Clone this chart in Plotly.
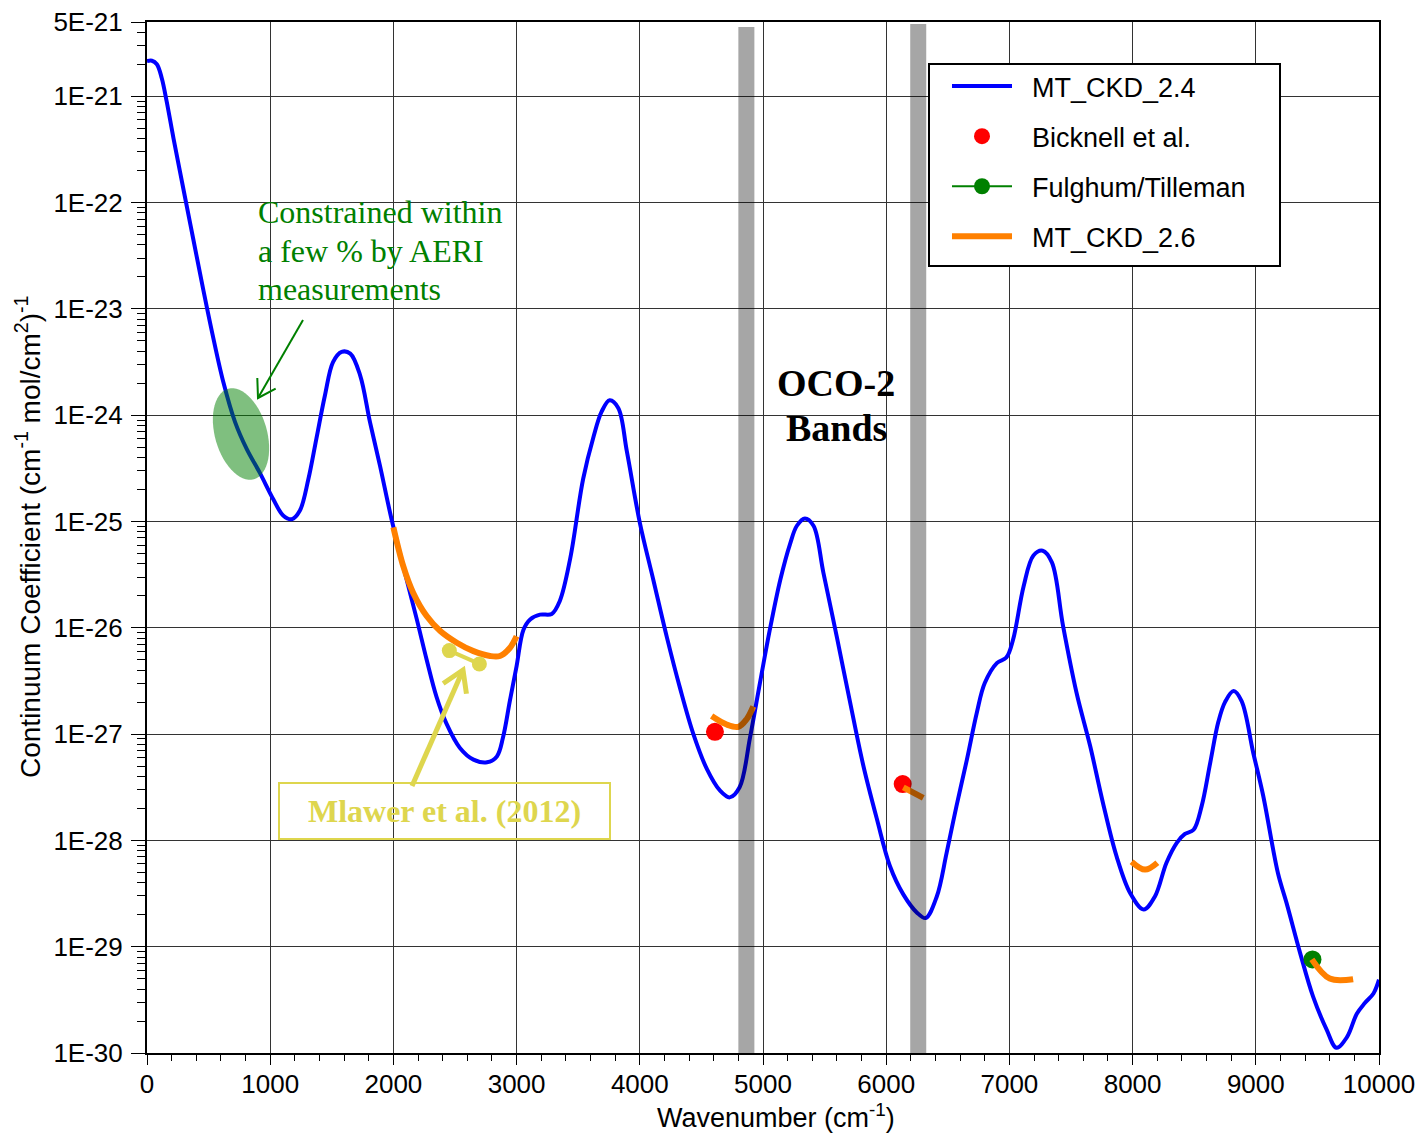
import numpy as np
import plotly.graph_objects as go

# ---------------- data ----------------
wn_ckd24 = [0, 40, 80, 120, 160, 215, 295, 375, 455, 530, 620, 715, 810, 915, 1025, 1105, 1175,
            1240, 1310, 1375, 1445, 1510, 1580, 1650, 1730, 1810, 1890, 1985, 2080, 2190, 2270,
            2350, 2430, 2540, 2650, 2760, 2840, 2890, 2945, 3000, 3055, 3110, 3190, 3285, 3350,
            3435, 3540, 3625, 3690, 3755, 3825, 3895, 4000, 4110, 4220, 4325, 4435, 4545, 4650,
            4730, 4810, 4895, 4975, 5055, 5140, 5220, 5275, 5340, 5410, 5490, 5600, 5705, 5815,
            5925, 6030, 6140, 6250, 6320, 6410, 6490, 6570, 6655, 6735, 6800, 6900, 6975, 7030,
            7115, 7195, 7270, 7345, 7435, 7545, 7655, 7760, 7870, 7980, 8090, 8180, 8275, 8360,
            8425, 8495, 8560, 8630, 8695, 8750, 8820, 8885, 8980, 9060, 9180, 9250, 9360, 9465,
            9575, 9655, 9740, 9820, 9885, 9955, 10000]
k_ckd24 = [2.14e-21, 2.16e-21, 2.00e-21, 1.48e-21, 8.91e-22, 4.03e-22, 1.35e-22, 4.57e-23, 1.55e-23,
           5.89e-24, 2.04e-24, 8.61e-25, 4.79e-25, 2.88e-25, 1.62e-25, 1.14e-25, 1.05e-25,
           1.26e-25, 2.51e-25, 6.03e-25, 1.55e-24, 3.16e-24, 3.94e-24, 3.80e-24, 2.37e-24,
           8.61e-25, 3.39e-25, 1.05e-25, 3.80e-26, 1.20e-26, 5.01e-27,
           2.24e-27, 1.26e-27, 7.41e-28, 5.75e-28, 5.43e-28, 6.17e-28, 9.33e-28, 2.04e-27,
           4.37e-27, 9.55e-27, 1.20e-26, 1.33e-26, 1.35e-26, 1.78e-26,
           4.47e-26, 2.51e-25, 6.31e-25, 1.08e-24, 1.38e-24, 1.17e-24, 4.57e-25, 9.77e-26,
           2.82e-26, 8.13e-27, 2.75e-27, 1.00e-27, 4.68e-28, 2.95e-28,
           2.54e-28, 3.16e-28, 9.33e-28, 3.02e-27, 9.55e-27, 2.82e-26, 6.17e-26, 9.12e-26,
           1.07e-25, 9.12e-26, 3.31e-26, 8.13e-27, 2.04e-27, 5.01e-28,
           1.58e-28, 5.75e-29, 3.09e-29, 2.09e-29, 1.86e-29, 2.95e-29, 7.59e-29, 2.09e-28,
           5.75e-28, 1.58e-27, 3.02e-27, 4.68e-27, 5.25e-27, 7.76e-27,
           2.45e-26, 4.79e-26, 5.31e-26, 4.12e-26, 1.05e-26, 2.45e-27, 7.76e-28, 2.24e-28,
           7.08e-29, 3.20e-29, 2.24e-29, 2.95e-29, 6.17e-29, 9.55e-29,
           1.15e-28, 1.26e-28, 2.09e-28, 5.37e-28, 1.29e-27, 2.00e-27, 2.54e-27, 2.04e-27,
           6.61e-28, 2.63e-28, 4.90e-29, 2.57e-29, 8.71e-30, 3.39e-30,
           1.66e-30, 1.12e-30, 1.41e-30, 2.34e-30, 2.95e-30, 3.63e-30, 4.90e-30]

# MT_CKD_2.6 segments (None separates segments)
wn_ckd26 = [2000, 2080, 2160, 2270, 2380, 2515, 2650, 2785, 2865, 2945, 3000, None,
            4583, 4705, 4800, 4867, 4921, None,
            6139, 6301, None,
            7992, 8101, 8201, None,
            9455, 9600, 9790]
k_ckd26 = [8.81e-26, 3.80e-26, 2.14e-26, 1.29e-26, 9.33e-27, 7.24e-27, 6.03e-27, 5.43e-27,
           5.43e-27, 6.46e-27, 8.32e-27, None,
           1.48e-27, 1.23e-27, 1.17e-27, 1.38e-27, 1.82e-27, None,
           3.16e-28, 2.51e-28, None,
           6.31e-29, 5.31e-29, 6.17e-29, None,
           7.59e-30, 5.01e-30, 4.95e-30]

wn_bicknell = [4610, 6134]
k_bicknell = [1.05e-27, 3.39e-28]

wn_fulghum = [9460]
k_fulghum = [7.59e-30]

wn_mlawer = [2454, 2698]
k_mlawer = [6.10e-27, 4.57e-27]

oco2_bands = [(4800, 4930), (6195, 6325)]

x_tickvals = list(range(0, 10001, 1000))
y_tickvals = [1e-30, 1e-29, 1e-28, 1e-27, 1e-26, 1e-25, 1e-24, 1e-23, 1e-22, 1e-21, 5e-21]
y_ticktext = ["1E-30", "1E-29", "1E-28", "1E-27", "1E-26", "1E-25", "1E-24", "1E-23",
              "1E-22", "1E-21", "5E-21"]

# ---------------- layout constants ----------------
W, H = 1420, 1136
ML, MR, MT, MB = 147, 41, 22, 83
PW, PH = W - ML - MR, H - MT - MB

def paper(px, py):
    return (px - ML) / PW, (H - MB - py) / PH

SANS = "Liberation Sans"
SERIF = "Liberation Serif"
BLUE = "#0000ff"
RED = "#ff0000"
GREEN = "#008000"
ORANGE = "#ff8000"
YELLOW = "rgb(222,214,78)"
SP = "&nbsp;&nbsp;"

fig = go.Figure()

fig.add_trace(go.Scatter(x=wn_ckd24, y=k_ckd24, mode="lines", name=SP + "MT_CKD_2.4",
                         line=dict(color=BLUE, width=4, shape="spline", smoothing=1.0),
                         legendgroup="a"))
fig.add_trace(go.Scatter(x=wn_bicknell, y=k_bicknell, mode="markers", name=SP + "Bicknell et al.",
                         marker=dict(color=RED, size=18), legendgroup="b"))
fig.add_trace(go.Scatter(x=wn_fulghum, y=k_fulghum, mode="lines+markers", name=SP + "Fulghum/Tilleman",
                         line=dict(color=GREEN, width=2), marker=dict(color=GREEN, size=18),
                         legendgroup="c"))
fig.add_trace(go.Scatter(x=wn_ckd26, y=k_ckd26, mode="lines", name=SP + "MT_CKD_2.6",
                         line=dict(color=ORANGE, width=6, shape="spline", smoothing=1.0),
                         connectgaps=False, legendgroup="d"))
fig.add_trace(go.Scatter(x=wn_mlawer, y=k_mlawer, mode="lines+markers", showlegend=False,
                         line=dict(color=YELLOW, width=4), marker=dict(color=YELLOW, size=15)))

shapes = []
# OCO-2 band bars (translucent dark, drawn over the curves)
tops = [paper(0, 27)[1], paper(0, 24)[1]]
for (b0, b1), yt in zip(oco2_bands, tops):
    shapes.append(dict(type="rect", xref="x", yref="paper", x0=b0, x1=b1, y0=0, y1=yt,
                       fillcolor="black", opacity=0.35, line=dict(width=0), layer="above"))

# green ellipse (AERI constraint)
cx, cy, a, b, th = 241, 434, 47, 26, np.radians(16)
ux, uy = np.sin(th), np.cos(th)
vx, vy = np.cos(th), -np.sin(th)
pts = []
for t in np.linspace(0, 2 * np.pi, 60, endpoint=False):
    px = cx + a * np.cos(t) * ux + b * np.sin(t) * vx
    py = cy + a * np.cos(t) * uy + b * np.sin(t) * vy
    pts.append(paper(px, py))
path = "M" + " L".join(f"{p[0]:.5f},{p[1]:.5f}" for p in pts) + " Z"
shapes.append(dict(type="path", xref="paper", yref="paper", path=path,
                   fillcolor=GREEN, opacity=0.5, line=dict(width=0), layer="above"))


def arrow_shapes(tail, tip, color, width, head_len, head_ang=32):
    out = []
    x0, y0 = paper(*tail)
    x1, y1 = paper(*tip)
    out.append(dict(type="line", xref="paper", yref="paper", x0=x0, y0=y0, x1=x1, y1=y1,
                    line=dict(color=color, width=width), layer="above"))
    dx, dy = tail[0] - tip[0], tail[1] - tip[1]
    n = np.hypot(dx, dy)
    dx, dy = dx / n, dy / n
    arms = []
    for s in (-1, 1):
        ang = np.radians(head_ang) * s
        rx = dx * np.cos(ang) - dy * np.sin(ang)
        ry = dx * np.sin(ang) + dy * np.cos(ang)
        arms.append(paper(tip[0] + head_len * rx, tip[1] + head_len * ry))
    p = (f"M{arms[0][0]:.5f},{arms[0][1]:.5f} L{x1:.5f},{y1:.5f} "
         f"L{arms[1][0]:.5f},{arms[1][1]:.5f}")
    out.append(dict(type="path", xref="paper", yref="paper", path=p,
                    line=dict(color=color, width=width), layer="above"))
    return out


shapes += arrow_shapes((303, 320), (258, 398), GREEN, 2, 20)
shapes += arrow_shapes((412, 786), (463, 670), YELLOW, 5, 24)

# legend box
lx0, ly0 = paper(929, 266)
lx1, ly1 = paper(1280, 64)
shapes.append(dict(type="rect", xref="paper", yref="paper", x0=lx0, x1=lx1, y0=ly0, y1=ly1,
                   fillcolor="white", line=dict(color="black", width=2), layer="above"))

annotations = []
# axis titles
tx, ty = paper(776, 1116)
annotations.append(dict(xref="paper", yref="paper", x=tx, y=ty, showarrow=False,
                        text="Wavenumber (cm<sup>-1</sup>)", font=dict(family=SANS, size=27, color="black"),
                        xanchor="center", yanchor="middle"))
tx, ty = paper(28, 537)
annotations.append(dict(xref="paper", yref="paper", x=tx, y=ty, showarrow=False, textangle=-90,
                        text="Continuum Coefficient (cm<sup>-1</sup> mol/cm<sup>2</sup>)<sup>-1</sup>",
                        font=dict(family=SANS, size=28, color="black"),
                        xanchor="center", yanchor="middle"))
# AERI text lines
for line, yc in zip(["Constrained within", "a few % by AERI", "measurements"], [212, 251, 289]):
    tx, ty = paper(256, yc)
    annotations.append(dict(xref="paper", yref="paper", x=tx, y=ty, showarrow=False,
                            text=line, font=dict(family=SERIF, size=32, color=GREEN),
                            xanchor="left", yanchor="middle"))
# Mlawer box
tx, ty = paper(444.5, 811)
annotations.append(dict(xref="paper", yref="paper", x=tx, y=ty, showarrow=False,
                        text="<b>Mlawer et al. (2012)</b>",
                        font=dict(family=SERIF, size=32, color=YELLOW),
                        bordercolor=YELLOW, borderwidth=2, borderpad=0, width=329, height=54,
                        xanchor="center", yanchor="middle"))
# OCO-2 label
for line, yc in zip(["OCO-2", "Bands"], [383, 428]):
    tx, ty = paper(836, yc)
    annotations.append(dict(xref="paper", yref="paper", x=tx, y=ty, showarrow=False,
                            text="<b>" + line + "</b>",
                            font=dict(family=SERIF, size=38, color="black"),
                            xanchor="center", yanchor="middle"))

minor_y = [k * 10.0 ** e for e in range(-30, -20) for k in range(2, 10) if k * 10.0 ** e <= 5e-21]

fig.update_layout(
    width=W, height=H,
    margin=dict(l=ML, r=MR, t=MT, b=MB, pad=0, autoexpand=False),
    paper_bgcolor="white", plot_bgcolor="white",
    font=dict(family=SANS, size=26, color="black"),
    shapes=shapes, annotations=annotations,
    showlegend=True,
    legend=dict(x=paper(947, 0)[0], y=paper(0, 62)[1], xanchor="left", yanchor="top",
                bgcolor="rgba(0,0,0,0)", borderwidth=0, traceorder="grouped",
                tracegroupgap=12, itemwidth=60, font=dict(family=SANS, size=27, color="black")),
    xaxis=dict(range=[0, 10000], tickvals=x_tickvals, ticktext=[str(v) for v in x_tickvals],
               ticks="outside", ticklen=10, tickwidth=1, tickcolor="black", automargin=False,
               ticklabelstandoff=-3,
               minor=dict(dtick=200, tick0=0, ticks="outside", ticklen=6, tickcolor="black", showgrid=False),
               showgrid=True, gridcolor="#333333", gridwidth=1,
               showline=True, linecolor="black", linewidth=2, mirror=True, zeroline=False,
               tickfont=dict(family=SANS, size=26, color="black")),
    yaxis=dict(type="log", range=[-30, np.log10(5e-21)], tickvals=y_tickvals, ticktext=y_ticktext,
               ticks="outside", ticklen=14, tickwidth=1, tickcolor="black", automargin=False,
               ticklabelstandoff=3,
               minor=dict(tickvals=minor_y, ticks="outside", ticklen=8, tickcolor="black", showgrid=False),
               showgrid=True, gridcolor="#333333", gridwidth=1,
               showline=True, linecolor="black", linewidth=2, mirror=True, zeroline=False,
               tickfont=dict(family=SANS, size=26, color="black")),
)

fig.write_html("out.html")
